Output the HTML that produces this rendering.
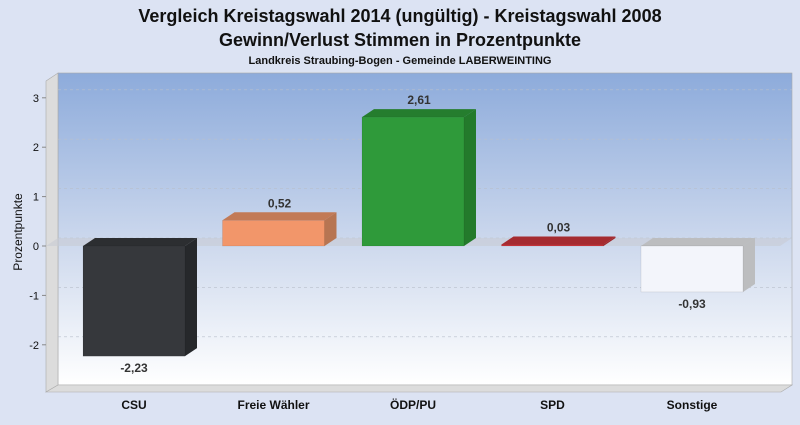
<!DOCTYPE html>
<html><head><meta charset="utf-8"><style>
body{margin:0;width:800px;height:420px;background:#dce3f3;font-family:"Liberation Sans",sans-serif;overflow:hidden}
</style></head><body>
<svg width="800" height="420" xmlns="http://www.w3.org/2000/svg">
<defs>
<linearGradient id="bg" x1="0" y1="0" x2="0" y2="1"><stop offset="0" stop-color="#8dabdb"/><stop offset="0.6" stop-color="#d3ddef"/><stop offset="1" stop-color="#ffffff"/></linearGradient>
</defs>
<text x="400" y="22" text-anchor="middle" font-size="18" font-weight="bold" fill="#111">Vergleich Kreistagswahl 2014 (ungültig) - Kreistagswahl 2008</text>
<text x="400" y="46" text-anchor="middle" font-size="18" font-weight="bold" fill="#111">Gewinn/Verlust Stimmen in Prozentpunkte</text>
<text x="400" y="64" text-anchor="middle" font-size="11" font-weight="bold" fill="#111">Landkreis Straubing-Bogen - Gemeinde LABERWEINTING</text>
<rect x="58" y="73" width="734" height="312" fill="url(#bg)" stroke="#aaa" stroke-width="0.6"/>
<polygon points="46,81 58,73 58,385 46,392" fill="#dcdcdc" stroke="#aaa" stroke-width="0.6"/>
<polygon points="46,392 58,385 792,385 781,392" fill="#dcdcdc" stroke="#aaa" stroke-width="0.6"/>
<g id="grid"></g>
<g id="bars"></g>
<g id="labels"></g>
<text transform="translate(22,232) rotate(-90)" text-anchor="middle" font-size="12" fill="#111">Prozentpunkte</text>
</svg>
<script>
const categories=["CSU","Freie Wähler","ÖDP/PU","SPD","Sonstige"];
const values=[-2.23,0.52,2.61,0.03,-0.93];
const valueLabels=["-2,23","0,52","2,61","0,03","-0,93"];
const colors=["#36383c","#f2966a","#2f9a3a","#c9343a","#f3f5fb"];
const sideColors=["#26282b","#b77552","#237a2b","#9c262a","#bcbdbf"];
const topColors=["#2c2e31","#c27a56","#257d2e","#a52b30","#bcbdbf"];
const yTicks=[3,2,1,0,-1,-2];
const DX=12,DY=-8,Z=246,S=49.4;
const y=v=>Z-v*S;
const x0=i=>83+i*139.5;
const W=102;
const NS="http://www.w3.org/2000/svg";
function mk(p,tag,a){const e=document.createElementNS(NS,tag);for(const k in a)e.setAttribute(k,a[k]);p.appendChild(e);return e;}
const grid=document.getElementById('grid'),bars=document.getElementById('bars'),labels=document.getElementById('labels');
yTicks.forEach(t=>{
  const g=mk(grid,'line',{x1:58,x2:792,y1:y(t)+DY,y2:y(t)+DY,stroke:'#b8bfcc','stroke-dasharray':'3,3','stroke-width':0.6});
  
  
  const tk=mk(grid,'line',{x1:42,x2:46,y1:y(t),y2:y(t),stroke:'#888'});
  
  
  const tl=mk(grid,'text',{x:39,y:y(t)+4,'text-anchor':'end','font-size':11,fill:'#111'});
  tl.textContent=t;
  
  
});
const zp=mk(grid,'polygon',{points:`46,${Z} 58,${Z+DY} 792,${Z+DY} 780,${Z}`,fill:'#c8ccd4',opacity:0.6});


values.forEach((v,i)=>{
  const xl=x0(i),xr=xl+W,ya=y(Math.max(v,0)),yb=y(Math.min(v,0));
  const g=mk(bars,'g',{});
  
  
  mk(g,'polygon',{points:`${xr},${ya} ${xr+DX},${ya+DY} ${xr+DX},${yb+DY} ${xr},${yb}`,fill:sideColors[i]});
  mk(g,'polygon',{points:`${xl},${ya} ${xl+DX},${ya+DY} ${xr+DX},${ya+DY} ${xr},${ya}`,fill:topColors[i]});
  mk(g,'rect',{x:xl,y:ya,width:W,height:Math.max(yb-ya,1),fill:colors[i],stroke:'rgba(0,0,0,0.15)','stroke-width':0.5});
  const ly=v>=0?ya+DY-5:yb+16;
  const t=mk(labels,'text',{x:xl+W/2+(v>=0?DX/2:0),y:ly,'text-anchor':'middle','font-size':12,'font-weight':'bold',fill:'#333'});
  t.textContent=valueLabels[i];
  
  
  const c=mk(labels,'text',{x:xl+W/2,y:409,'text-anchor':'middle','font-size':12,'font-weight':'bold',fill:'#111'});
  c.textContent=categories[i];
  
  
});
</script>
</body></html>
